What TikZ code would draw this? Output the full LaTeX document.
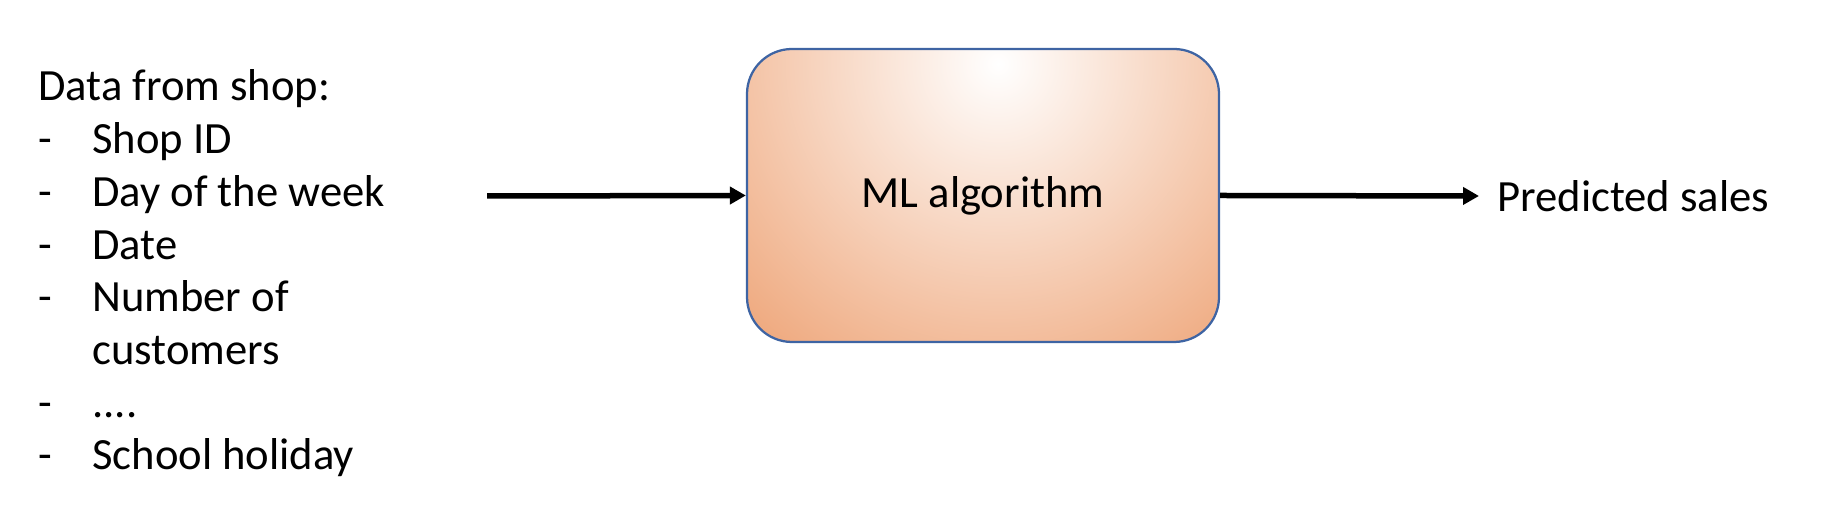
\documentclass[tikz,border=0pt]{standalone}
\usepackage{fontspec}
\setmainfont{Carlito}
\usepackage{tikz}
\usetikzlibrary{arrows.meta}
\definecolor{mlorange}{RGB}{236,154,104}
\definecolor{mlborder}{RGB}{62,100,163}
\def\largeur{36.6}
\def\hauteur{10.52}
\def\interligne{1.054}
\newcommand{\etc}{....}

\begin{document}
\begin{tikzpicture}[x=1cm, y=1cm,
	txt/.style={inner sep=0pt, font=\fontsize{25.4}{30}\selectfont},
	fleche/.style={-{Triangle[length=0.32cm, width=0.34cm]}, line width=0.11cm},
	boite/.style={draw=mlborder, line width=0.045cm, rounded corners=0.9cm, minimum width=9.44cm, minimum height=5.86cm}]
	\useasboundingbox (0,0) rectangle (\largeur,\hauteur);
	%\draw[step=1cm, line width=0.2mm, black!20!white] (0,0) grid (\largeur,\hauteur);
	% donnees du magasin
	\node[txt, anchor=base west] (shop) at (0.76,8.5) {Data from shop:};
	\foreach \t [count=\i] in {Shop ID, Day of the week, Date, Number of, customers, \etc, School holiday}
		\node[txt, anchor=base west] (item\i) at (1.84,{8.5-\i*\interligne}) {\t};
	\foreach \i in {1,2,3,4,6,7}
		\node[txt, anchor=base west] (dash\i) at (0.76,{8.5-\i*\interligne}) {-};
	% algorithme
	\node[boite, txt, path picture={\shade[inner color=white, outer color=mlorange] ([xshift=0.3cm, yshift=-0.3cm]path picture bounding box.north) circle (8.5cm);}] (ml) at (19.66,6.61) {ML algorithm};
	\node[txt, anchor=west, inner xsep=0.36cm] (sales) at (29.58,6.6) {Predicted sales};
	\coordinate (in) at (9.74,6.6);
	\draw[fleche] (in) -- (ml.west);
	\draw[fleche] (ml.east) -- (sales.west);
\end{tikzpicture}
\end{document}
